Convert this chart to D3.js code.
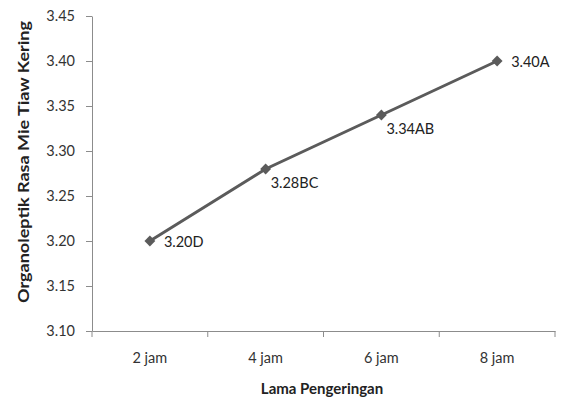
<!DOCTYPE html>
<html><head><meta charset="utf-8">
<script src="https://cdn.jsdelivr.net/npm/d3@7"></script>
<style>body{margin:0;background:#fff}svg{display:block}</style>
</head><body>
<svg id="c" width="562" height="405"></svg>
<script>
const categories = ["2 jam","4 jam","6 jam","8 jam"];
const values = [3.20, 3.28, 3.34, 3.40];
const labels = ["3.20D","3.28BC","3.34AB","3.40A"];
const labelPlacement = ["right","below","below","right"];
const yTicks = [3.10,3.15,3.20,3.25,3.30,3.35,3.40,3.45];
const yTitle = "Organoleptik Rasa Mie Tiaw Kering";
const xTitle = "Lama Pengeringan";

const svg = d3.select("#c");
const m = {l:92, r:7, t:16, b:74};
const W = 562, H = 405;
const x = d3.scaleBand().domain(categories).range([m.l, W-m.r]);
const y = d3.scaleLinear().domain([3.10,3.45]).range([H-m.b, m.t]);
const font = "Lato, 'Open Sans', sans-serif";
const axisCol = "#8c8c8c";

// Y axis
const ya = svg.append("g").attr("transform",`translate(${m.l},0)`)
  .call(d3.axisLeft(y).tickValues(yTicks).tickFormat(d3.format(".2f")).tickSize(6).tickSizeOuter(0));
ya.select(".domain").attr("stroke",axisCol);
ya.selectAll(".tick line").attr("stroke",axisCol);
ya.selectAll("text").attr("font-family",font).attr("font-size",14.5).attr("fill","#333").attr("dx",-8);

// X axis
const xa = svg.append("g").attr("transform",`translate(0,${H-m.b})`)
  .call(d3.axisBottom(x).tickSize(0).tickSizeOuter(0));
xa.select(".domain").attr("stroke",axisCol);
xa.selectAll("text").attr("font-family",font).attr("font-size",14.5).attr("fill","#333").attr("dy","2.0em");
// boundary ticks between categories
const bounds = categories.map(c=>x(c)).concat([x(categories[categories.length-1])+x.bandwidth()]);
xa.selectAll(".bt").data(bounds).join("line").attr("class","bt")
  .attr("x1",d=>d).attr("x2",d=>d).attr("y1",0).attr("y2",6).attr("stroke",axisCol);

// line
const cx = (d,i)=>x(categories[i])+x.bandwidth()/2;
svg.append("path").datum(values)
  .attr("d", d3.line().x(cx).y(d=>y(d)))
  .attr("fill","none").attr("stroke","#5b5b5b").attr("stroke-width",3);

// markers
svg.selectAll(".mk").data(values).join("path").attr("class","mk")
  .attr("transform",(d,i)=>`translate(${cx(d,i)},${y(d)})`)
  .attr("d", d3.symbol().type(d3.symbolDiamond2).size(75))
  .attr("fill","#5b5b5b");

// labels
svg.selectAll(".lb").data(values).join("text").attr("class","lb")
  .attr("x",(d,i)=>cx(d,i)+(labelPlacement[i]==="right"?14:5))
  .attr("y",(d,i)=>y(d)+(labelPlacement[i]==="right"?6:19))
  .attr("font-family",font).attr("font-size",14.5).attr("fill","#222")
  .text((d,i)=>labels[i]);

// titles
svg.append("text").attr("transform",`translate(29,162) rotate(-90)`)
  .attr("text-anchor","middle").attr("font-family",font).attr("font-weight","bold")
  .attr("font-size",15).attr("fill","#222")
  .attr("textLength",282).attr("lengthAdjust","spacingAndGlyphs").text(yTitle);
svg.append("text").attr("x",322).attr("y",394)
  .attr("text-anchor","middle").attr("font-family",font).attr("font-weight","bold")
  .attr("font-size",15).attr("fill","#222").text(xTitle);
</script>
</body></html>
